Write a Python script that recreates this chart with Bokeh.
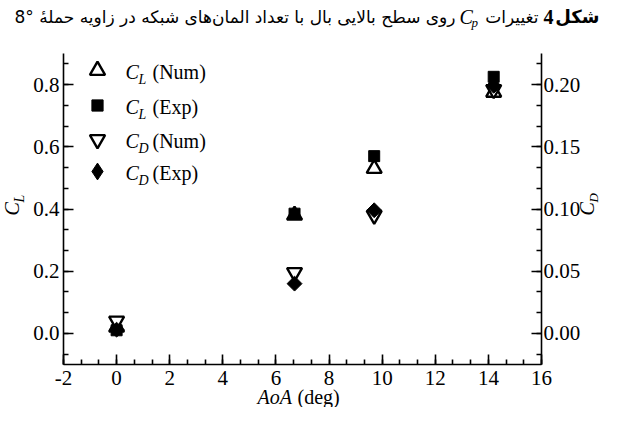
import numpy as np
from bokeh.plotting import figure
from bokeh.models import (Range1d, LinearAxis, SingleIntervalTicker, PrintfTickFormatter,
                          Label, Legend, LegendItem, ColumnDataSource)
from bokeh.embed import file_html
from bokeh.resources import INLINE
from bokeh.core.properties import value

# ---------------- data ----------------
aoa = [0.0, 6.7, 9.7, 14.2]
cl_num = [0.02, 0.38, 0.53, 0.775]
cl_exp = [0.01, 0.385, 0.57, 0.825]
cd_num = [0.01, 0.049, 0.095, 0.196]
cd_exp = [0.003, 0.040, 0.099, 0.199]

series_names = ["(Num)", "(Exp)", "(Num)", "(Exp)"]
series_syms = ["L", "L", "D", "D"]

# title text after "Cp" (Persian, right to left)
title_rest = "روی سطح بالایی بال با تعداد المان\u200cهای شبکه در زاویه حملهٔ"
title_angle = "8°"

# ---------------- layout ----------------
W, H = 601, 407
FL, FR, FT, FB = 63, 541, 53, 364
XR = (-2, 16)
YR = (-0.1, 0.9)
SERIF = "Liberation Serif"
AR = "DejaVu Sans"
FS = "21px"

def fx(cx):
    return cx - FL

def fy(cy):
    return FB - cy

def dx(cx):
    return XR[0] + (cx - FL) / (FR - FL) * (XR[1] - XR[0])

def dy(cy):
    return YR[0] + (FB - cy) / (FB - FT) * (YR[1] - YR[0])

p = figure(width=W, height=H, x_range=Range1d(*XR), y_range=Range1d(*YR),
           output_backend="svg", toolbar_location=None,
           min_border_left=FL, min_border_right=W - FR,
           min_border_top=FT, min_border_bottom=H - FB)
p.outline_line_color = None
p.xgrid.visible = False
p.ygrid.visible = False
p.background_fill_color = "white"
p.border_fill_color = "white"

p.extra_y_ranges = {"cd": Range1d(-0.025, 0.225)}
raxis = LinearAxis(y_range_name="cd")
p.add_layout(raxis, "right")

p.xaxis.ticker = SingleIntervalTicker(interval=2, num_minor_ticks=3)
p.xaxis.formatter = PrintfTickFormatter(format="%d")
p.yaxis[0].ticker = SingleIntervalTicker(interval=0.2, num_minor_ticks=3)
p.yaxis[0].formatter = PrintfTickFormatter(format="%.1f")
raxis.ticker = SingleIntervalTicker(interval=0.05, num_minor_ticks=3)
raxis.formatter = PrintfTickFormatter(format="%.2f")

for ax in [p.xaxis[0], p.yaxis[0], raxis]:
    ax.axis_line_width = 1.6
    ax.axis_line_color = "black"
    ax.major_tick_in = 10
    ax.major_tick_out = 0
    ax.minor_tick_in = 5
    ax.minor_tick_out = 0
    ax.major_tick_line_width = 1.6
    ax.minor_tick_line_width = 1.6
    ax.major_tick_line_color = "black"
    ax.minor_tick_line_color = "black"
    ax.major_label_text_font = SERIF
    ax.major_label_text_font_size = FS
    ax.major_label_text_color = "black"
p.xaxis.major_label_standoff = 6
p.yaxis[0].major_label_standoff = 4
raxis.major_label_standoff = 2

# ---------------- glyphs ----------------
src = ColumnDataSource(dict(x=aoa, cln=cl_num, cle=cl_exp, cdn=cd_num, cde=cd_exp))
r1 = p.scatter("x", "cln", source=src, marker="triangle", size=15, fill_color="white",
               line_color="black", line_width=2.4)
r2 = p.scatter("x", "cle", source=src, marker="square", size=11, fill_color="black",
               line_color="black", line_width=1)
r3 = p.scatter("x", "cdn", source=src, marker="inverted_triangle", size=15, fill_color="white",
               line_color="black", line_width=2.4, y_range_name="cd")
# diamond-shaped key renderer (legend keys ignore marker angle); hidden under r4
r4_key = p.scatter("x", "cde", source=src, marker="diamond", size=8, fill_color="black",
                   line_color="black", line_width=1, y_range_name="cd")
r4 = p.scatter("x", "cde", source=src, marker="square", angle=np.pi / 4, size=10.5,
               fill_color="black", line_color="black", line_width=1, y_range_name="cd")

# ---------------- legend (one per entry, for individual key sizes) ----------------
leg_cx = 97
leg_cy = [70, 105, 139, 171]
key_sizes = [15, 11, 15, 17]
for r, cy, s in zip([r1, r2, r3, r4_key], leg_cy, key_sizes):
    g = s / 0.4
    lg = Legend(items=[LegendItem(label=value(""), renderers=[r])],
                location=(fx(leg_cx) - g / 2, fy(cy) - g / 2),
                glyph_width=int(round(g)), glyph_height=int(round(g)),
                padding=0, margin=0, spacing=0, label_standoff=0,
                label_width=0, label_height=0, label_text_font_size="1px",
                border_line_color=None, background_fill_alpha=0)
    p.add_layout(lg, "center")

def lab(x, y, text, size="20px", style="normal", font=SERIF):
    p.add_layout(Label(x=fx(x), y=fy(y), x_units="screen", y_units="screen", text=text,
                       text_font=font, text_font_size=size, text_font_style=style,
                       text_color="black", text_align="left", text_baseline="middle"))

for cy, sym, nm in zip(leg_cy, series_syms, series_names):
    lab(125, cy + 1, "C", style="italic")
    lab(138, cy + 9, sym, size="14px", style="italic")
    lab(152, cy + 1, nm)

# ---------------- texts outside the frame (text glyphs on the overlay level) ----------------
def otext(x, y, text, size="20px", style="normal", font=SERIF, angle=0.0, align="left"):
    p.text(x=[dx(v) for v in x], y=[dy(v) for v in y], text=text, text_font=value(font),
           text_font_size=value(size), text_font_style=style, text_color="black",
           angle=angle, text_align=align, text_baseline="middle", level="overlay")

otext([257], [396], ["AoA"], style="italic")
otext([297], [396], ["(deg)"])

otext([11], [215], ["C"], style="italic", angle=np.pi / 2)
otext([19], [202], ["L"], size="14px", style="italic", angle=np.pi / 2)
otext([586], [215], ["C"], style="italic", angle=np.pi / 2)
otext([593], [202], ["D"], size="13px", style="italic", angle=np.pi / 2)

# title, right-to-left: "شکل 4" at the right edge, "8°" at the left edge
TY = 16
otext([599], [TY], ["شکل"], size="18px", style="bold", font=AR, align="right")
otext([553], [TY], ["4"], size="20px", style="bold", align="right")
otext([538], [TY], ["تغییرات"], size="17px", font=AR, align="right")
otext([459], [TY], ["C"], size="20px", style="italic")
otext([471], [TY + 6], ["p"], size="13px", style="italic")
rest = "\u202b" + title_rest + " \u2066" + title_angle + "\u2069\u202c"
otext([455], [TY], [rest], size="17px", font=AR, align="right")

open("out.html", "w").write(file_html(p, INLINE))
